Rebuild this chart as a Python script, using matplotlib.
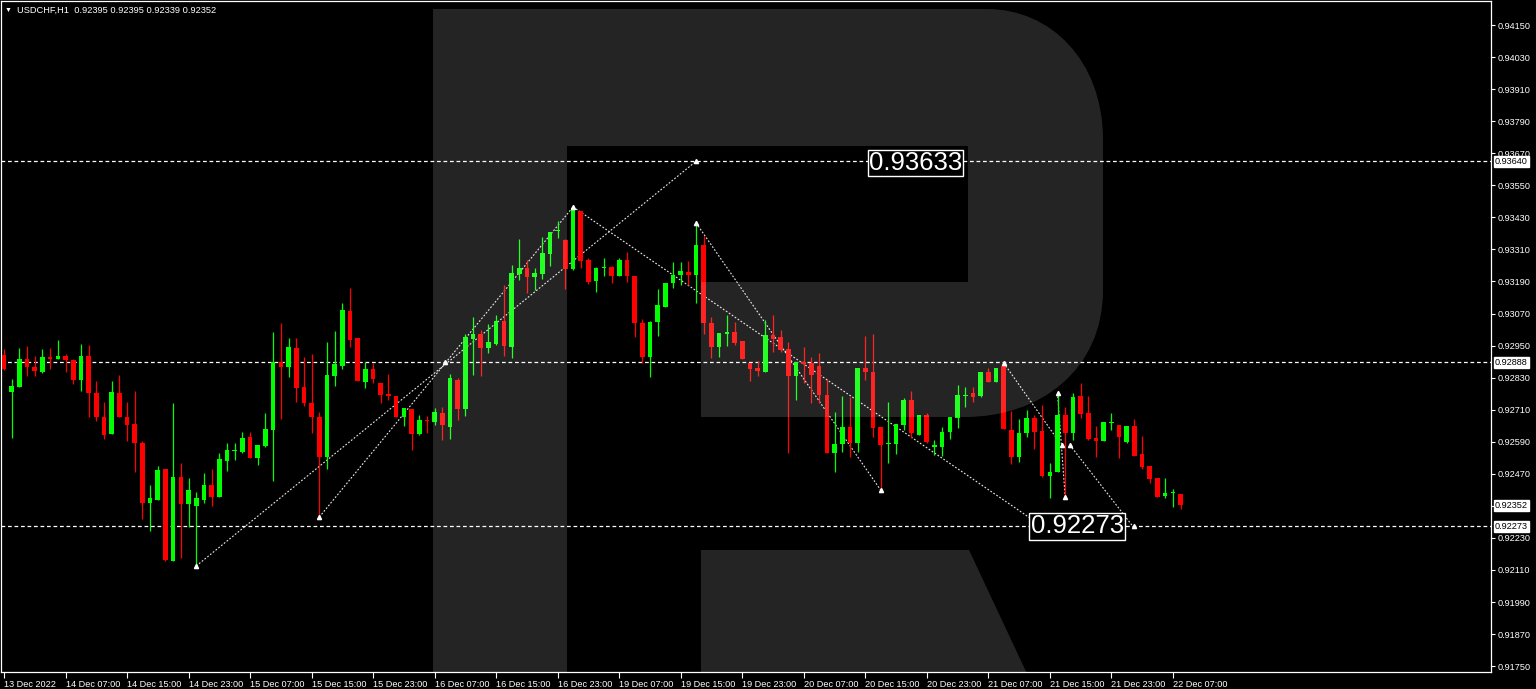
import matplotlib
matplotlib.use("Agg")
import matplotlib.pyplot as plt
from matplotlib.path import Path
from matplotlib.patches import PathPatch, Polygon
from matplotlib.transforms import Affine2D, blended_transform_factory
import numpy as np

symbol = "USDCHF,H1"

# hourly bars, 13 Dec 2022 23:00 .. 22 Dec 2022 08:00
opens = [0.92915, 0.92776, 0.92795, 0.92900, 0.92870, 0.92851, 0.92907, 0.92900, 0.92911, 0.92896,
         0.92821, 0.92911, 0.92773, 0.92683, 0.92619, 0.92773, 0.92683, 0.92657, 0.92585, 0.92361,
         0.92372, 0.92488, 0.92144, 0.92458, 0.92357, 0.92350, 0.92372, 0.92428, 0.92383, 0.92518,
         0.92555, 0.92552, 0.92608, 0.92529, 0.92574, 0.92634, 0.92889, 0.92870, 0.92941, 0.92795,
         0.92735, 0.92683, 0.92533, 0.92836, 0.92874, 0.93080, 0.92979, 0.92814, 0.92862, 0.92810,
         0.92769, 0.92761, 0.92683, 0.92713, 0.92619, 0.92672, 0.92664, 0.92698, 0.92645, 0.92821,
         0.92713, 0.92975, 0.92994, 0.92941, 0.92956, 0.93042, 0.92945, 0.93218, 0.93241, 0.93207,
         0.93218, 0.93293, 0.93379, 0.93345, 0.93237, 0.93454, 0.93271, 0.93192, 0.93241, 0.93244,
         0.93211, 0.93271, 0.93211, 0.93035, 0.92907, 0.93038, 0.93095, 0.93184, 0.93214, 0.93226,
         0.93214, 0.93327, 0.93035, 0.92945, 0.92994, 0.93001, 0.92967, 0.92885, 0.92866, 0.92851,
         0.92990, 0.92982, 0.92937, 0.92836, 0.92889, 0.92885, 0.92874, 0.92765, 0.92548, 0.92582,
         0.92645, 0.92585, 0.92866, 0.92851, 0.92645, 0.92582, 0.92582, 0.92653, 0.92746, 0.92615,
         0.92690, 0.92570, 0.92570, 0.92627, 0.92679, 0.92761, 0.92773, 0.92761, 0.92851, 0.92814,
         0.92874, 0.92634, 0.92533, 0.92623, 0.92679, 0.92630, 0.92462, 0.92477, 0.92690, 0.92623,
         0.92761, 0.92698, 0.92604, 0.92593, 0.92660, 0.92653, 0.92589, 0.92649, 0.92544, 0.92499,
         0.92454, 0.92387, 0.92398, 0.92395]
highs = [0.92937, 0.92825, 0.92941, 0.92949, 0.92911, 0.92937, 0.92941, 0.92971, 0.92919, 0.92900,
         0.92956, 0.92952, 0.92817, 0.92739, 0.92817, 0.92840, 0.92739, 0.92780, 0.92593, 0.92428,
         0.92499, 0.92488, 0.92735, 0.92511, 0.92454, 0.92402, 0.92473, 0.92488, 0.92548, 0.92585,
         0.92585, 0.92627, 0.92627, 0.92578, 0.92698, 0.93001, 0.93035, 0.92979, 0.92979, 0.92907,
         0.92919, 0.92701, 0.92964, 0.93005, 0.93110, 0.93166, 0.92979, 0.92889, 0.92885, 0.92810,
         0.92844, 0.92761, 0.92716, 0.92713, 0.92690, 0.92686, 0.92716, 0.92720, 0.92844, 0.92829,
         0.92994, 0.93057, 0.93009, 0.93031, 0.93065, 0.93177, 0.93252, 0.93349, 0.93271, 0.93241,
         0.93357, 0.93375, 0.93417, 0.93349, 0.93469, 0.93454, 0.93278, 0.93244, 0.93278, 0.93248,
         0.93278, 0.93301, 0.93211, 0.93050, 0.93042, 0.93162, 0.93184, 0.93263, 0.93263, 0.93267,
         0.93409, 0.93360, 0.93057, 0.92997, 0.93065, 0.93038, 0.92967, 0.92885, 0.92892, 0.93046,
         0.93065, 0.93009, 0.92964, 0.92889, 0.92945, 0.92907, 0.92922, 0.92825, 0.92701, 0.92761,
         0.92758, 0.92866, 0.92986, 0.92994, 0.92645, 0.92739, 0.92657, 0.92754, 0.92780, 0.92690,
         0.92698, 0.92597, 0.92645, 0.92683, 0.92803, 0.92795, 0.92795, 0.92851, 0.92866, 0.92866,
         0.92885, 0.92705, 0.92675, 0.92709, 0.92690, 0.92728, 0.92511, 0.92773, 0.92720, 0.92773,
         0.92810, 0.92761, 0.92649, 0.92664, 0.92698, 0.92653, 0.92649, 0.92675, 0.92612, 0.92499,
         0.92454, 0.92454, 0.92413, 0.92395]
lows = [0.92859, 0.92604, 0.92795, 0.92836, 0.92836, 0.92847, 0.92862, 0.92900, 0.92851, 0.92806,
        0.92780, 0.92683, 0.92668, 0.92600, 0.92619, 0.92683, 0.92593, 0.92477, 0.92301, 0.92256,
        0.92372, 0.92144, 0.92144, 0.92155, 0.92271, 0.92125, 0.92361, 0.92350, 0.92383, 0.92481,
        0.92522, 0.92548, 0.92529, 0.92503, 0.92570, 0.92443, 0.92675, 0.92832, 0.92739, 0.92724,
        0.92623, 0.92308, 0.92488, 0.92799, 0.92862, 0.92945, 0.92817, 0.92791, 0.92810, 0.92735,
        0.92746, 0.92683, 0.92649, 0.92559, 0.92615, 0.92623, 0.92653, 0.92597, 0.92600, 0.92672,
        0.92686, 0.92840, 0.92836, 0.92922, 0.92952, 0.92911, 0.92904, 0.93196, 0.93147, 0.93158,
        0.93199, 0.93248, 0.93353, 0.93162, 0.93233, 0.93241, 0.93181, 0.93151, 0.93211, 0.93184,
        0.93211, 0.93188, 0.92982, 0.92885, 0.92832, 0.92986, 0.93095, 0.93166, 0.93177, 0.93177,
        0.93110, 0.92994, 0.92904, 0.92907, 0.92949, 0.92952, 0.92900, 0.92817, 0.92836, 0.92851,
        0.92926, 0.92926, 0.92548, 0.92746, 0.92810, 0.92735, 0.92735, 0.92548, 0.92477, 0.92552,
        0.92533, 0.92552, 0.92821, 0.92608, 0.92409, 0.92511, 0.92544, 0.92634, 0.92604, 0.92615,
        0.92585, 0.92541, 0.92537, 0.92600, 0.92642, 0.92720, 0.92739, 0.92758, 0.92814, 0.92814,
        0.92638, 0.92507, 0.92514, 0.92608, 0.92563, 0.92458, 0.92379, 0.92477, 0.92383, 0.92597,
        0.92679, 0.92597, 0.92533, 0.92593, 0.92634, 0.92529, 0.92585, 0.92537, 0.92488, 0.92436,
        0.92383, 0.92379, 0.92346, 0.92339]
closes = [0.92862, 0.92799, 0.92900, 0.92870, 0.92855, 0.92907, 0.92900, 0.92911, 0.92896, 0.92821,
          0.92911, 0.92773, 0.92683, 0.92615, 0.92776, 0.92683, 0.92653, 0.92585, 0.92361, 0.92379,
          0.92484, 0.92147, 0.92458, 0.92357, 0.92409, 0.92379, 0.92428, 0.92383, 0.92526, 0.92559,
          0.92559, 0.92604, 0.92529, 0.92578, 0.92638, 0.92889, 0.92870, 0.92945, 0.92791, 0.92735,
          0.92683, 0.92533, 0.92840, 0.92881, 0.93083, 0.92971, 0.92817, 0.92862, 0.92825, 0.92765,
          0.92761, 0.92683, 0.92716, 0.92619, 0.92672, 0.92668, 0.92701, 0.92653, 0.92829, 0.92713,
          0.92982, 0.92994, 0.92941, 0.92964, 0.93042, 0.92949, 0.93222, 0.93241, 0.93207, 0.93222,
          0.93297, 0.93375, 0.93383, 0.93237, 0.93462, 0.93267, 0.93188, 0.93241, 0.93244, 0.93211,
          0.93271, 0.93211, 0.93035, 0.92907, 0.93038, 0.93102, 0.93184, 0.93214, 0.93229, 0.93214,
          0.93327, 0.93035, 0.92945, 0.92997, 0.93001, 0.92960, 0.92900, 0.92862, 0.92855, 0.92990,
          0.92975, 0.92934, 0.92836, 0.92889, 0.92881, 0.92840, 0.92765, 0.92548, 0.92582, 0.92645,
          0.92585, 0.92866, 0.92851, 0.92642, 0.92578, 0.92585, 0.92657, 0.92746, 0.92623, 0.92690,
          0.92589, 0.92578, 0.92627, 0.92683, 0.92765, 0.92765, 0.92758, 0.92851, 0.92814, 0.92866,
          0.92638, 0.92533, 0.92623, 0.92679, 0.92627, 0.92462, 0.92477, 0.92690, 0.92623, 0.92758,
          0.92694, 0.92600, 0.92593, 0.92664, 0.92664, 0.92608, 0.92649, 0.92537, 0.92496, 0.92451,
          0.92383, 0.92398, 0.92402, 0.92352]

time_labels = ["13 Dec 2022", "14 Dec 07:00", "14 Dec 15:00", "14 Dec 23:00", "15 Dec 07:00",
               "15 Dec 15:00", "15 Dec 23:00", "16 Dec 07:00", "16 Dec 15:00", "16 Dec 23:00",
               "19 Dec 07:00", "19 Dec 15:00", "19 Dec 23:00", "20 Dec 07:00", "20 Dec 15:00",
               "20 Dec 23:00", "21 Dec 07:00", "21 Dec 15:00", "21 Dec 23:00", "22 Dec 07:00"]
label_every = 8

price_ticks = [0.94150, 0.94030, 0.93910, 0.93790, 0.93670, 0.93550, 0.93430, 0.93310, 0.93190,
               0.93070, 0.92950, 0.92830, 0.92710, 0.92590, 0.92470, 0.92350, 0.92230, 0.92110,
               0.91990, 0.91870, 0.91750]

# horizontal levels and the forecast target boxes
levels = [0.93640, 0.92888, 0.92273]
targets = [0.93633, 0.92273]
target_box_right = [124.6, 145.6]

# forecast / wave lines (bar index, price)
wave_lines = [
    [(25, 0.92125), (90, 0.93640)],
    [(41, 0.92308), (74, 0.93469)],
    [(74, 0.93469), (133.4, 0.92305)],
    [(90, 0.93409), (114, 0.92409)],
    [(130, 0.92885), (137.2, 0.92590)],
    [(138.6, 0.92578), (146.8, 0.92273)],
    [(137, 0.92773), (138, 0.92383)],
]
wave_points = [(25, 0.92125), (41, 0.92308), (57.3, 0.92888), (74, 0.93469), (90, 0.93409),
               (114, 0.92409), (130, 0.92885), (137, 0.92773), (138, 0.92383),
               (137.6, 0.92578), (138.6, 0.92578), (90, 0.93640), (147, 0.92273)]

W, H = 1536, 689
fig = plt.figure(figsize=(W / 100, H / 100), dpi=100, facecolor="black")
ax = fig.add_axes([1 / W, (H - 672) / H, 1490 / W, 671 / H])
ax.set_facecolor("black")

x = np.arange(len(opens))
o = np.array(opens); c = np.array(closes); hi = np.array(highs); lo = np.array(lows)
up = c >= o
cols = np.where(up, "#00ff00", "#ff0000")

ax.vlines(x, lo, hi, colors=cols, linewidth=0.9, zorder=3)
body_lo = np.minimum(o, c)
body_h = np.maximum(np.abs(c - o), 0.000012)
ax.bar(x, body_h, bottom=body_lo, width=0.6, color=cols, linewidth=0, zorder=4)

# horizontal levels
for lv in levels:
    ax.axhline(lv, color="white", linewidth=0.9, dashes=(3, 2.2), zorder=2)

# wave lines
for seg in wave_lines:
    xs, ys = zip(*seg)
    ax.plot(xs, ys, color="#e6e6e6", linewidth=0.8, dashes=(1.6, 1.6), zorder=2)
px, py = zip(*wave_points)
ax.plot(px, py, linestyle="none", marker="^", markersize=3, color="white", zorder=5)

# target boxes
for t, xr in zip(targets, target_box_right):
    ax.text(xr, t, f"{t:.5f}", ha="right", va="center", fontsize=18.5,
            family=["Liberation Sans", "DejaVu Sans"], color="white", zorder=8,
            bbox=dict(facecolor="black", edgecolor="white", linewidth=1, pad=1.0))

ax.set_xlim(-0.39, 193.37)
ax.set_ylim(0.91728, 0.94240)

# logo overlay, drawn in image pixel coordinates
pix = Affine2D().scale(1 / W, -1 / H).translate(0, 1) + fig.transFigure
verts = [(433, 9), (987, 9), (1050, 9), (1103, 60), (1103, 140), (1103, 290),
         (1103, 370), (1040, 417), (965, 417), (701, 417), (701, 282), (968, 282),
         (968, 146), (567, 146), (567, 680), (433, 680), (433, 9)]
codes = [Path.MOVETO, Path.LINETO, Path.CURVE4, Path.CURVE4, Path.CURVE4, Path.LINETO,
         Path.CURVE4, Path.CURVE4, Path.CURVE4, Path.LINETO, Path.LINETO, Path.LINETO,
         Path.LINETO, Path.LINETO, Path.LINETO, Path.LINETO, Path.CLOSEPOLY]
logo = PathPatch(Path(verts, codes), transform=pix, facecolor="white", alpha=0.145,
                 edgecolor="none", zorder=6)
ax.add_patch(logo)
leg = Polygon([(701, 550), (969, 550), (1030, 680), (701, 680)], closed=True, transform=pix,
              facecolor="white", alpha=0.145, edgecolor="none", zorder=6)
ax.add_patch(leg)

font = ["Liberation Sans", "DejaVu Sans"]
ax.set_xticks(x[::label_every][:len(time_labels)])
ax.set_xticklabels(time_labels, ha="left", fontsize=6.6, color="white", family=font)
ax.yaxis.tick_right()
ax.set_yticks(price_ticks)
# the last-price box sits over the 0.92350 tick label, as on the terminal
ax.set_yticklabels(["" if abs(p - closes[-1]) < 0.00005 else f"{p:.5f}" for p in price_ticks],
                   fontsize=6.6, color="white", family=font)
ax.tick_params(axis="x", direction="out", length=4, width=0.8, color="white", pad=1.5)
ax.tick_params(axis="y", direction="out", length=3, width=0.8, color="white", pad=2)
for sp in ax.spines.values():
    sp.set_color("white")
    sp.set_linewidth(0.9)

# price labels on the axis for the levels and the last close
right = blended_transform_factory(ax.transAxes, ax.transData)
for lv in levels + [closes[-1]]:
    ax.text(1.0025, lv, f"{lv:.5f}", transform=right, ha="left", va="center", fontsize=6.6,
            family=font, color="black", zorder=10, clip_on=False,
            bbox=dict(facecolor="white", edgecolor="white", pad=0.8))

title = f"{symbol}  {opens[-1]:.5f} {highs[-1]:.5f} {lows[-1]:.5f} {closes[-1]:.5f}"
fig.text(5 / W, 1 - 10 / H, "\u25bc", fontsize=5, color="white", va="center", family=font)
fig.text(17 / W, 1 - 10 / H, title, fontsize=6.7, color="white", va="center", family=font)

fig.savefig("out.png", dpi=100, facecolor="black")
